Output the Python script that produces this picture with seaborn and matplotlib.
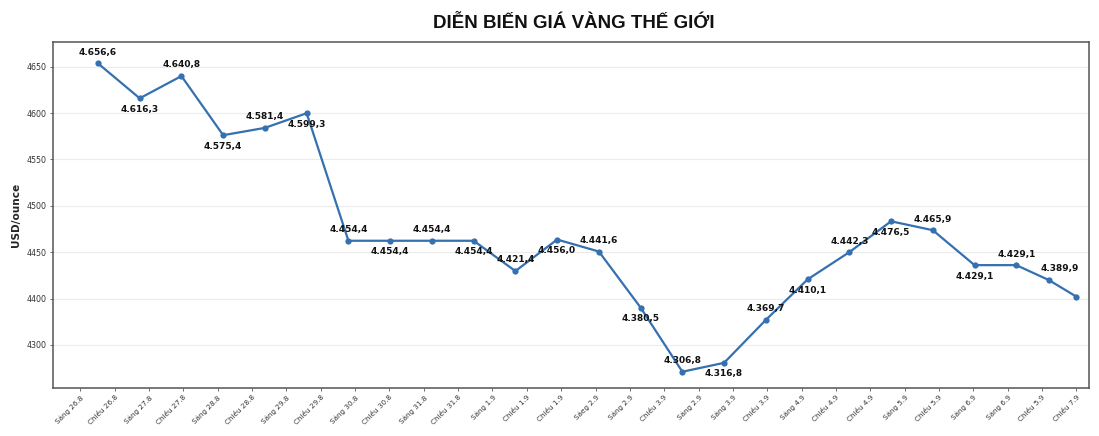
import numpy as np
import pandas as pd
import seaborn as sns
import matplotlib.pyplot as plt

# values (point heights) and the printed labels
prices = [4653.7, 4616.0, 4640.0, 4576.2, 4584.1, 4599.9, 4462.3, 4462.3,
          4462.3, 4462.3, 4429.6, 4463.6, 4450.7, 4390.2, 4321.0, 4330.6,
          4376.9, 4420.6, 4450.0, 4483.3, 4473.7, 4436.0, 4436.0, 4419.9,
          4402.0]
point_x = list(range(23)) + [22.78, 23.44]
price_labels = ["4.656,6", "4.616,3", "4.640,8", "4.575,4", "4.581,4",
                "4.599,3", "4.454,4", "4.454,4", "4.454,4", "4.454,4",
                "4.421,4", "4.456,0", "4.441,6", "4.380,5", "4.306,8",
                "4.316,8", "4.369,7", "4.410,1", "4.442,3", "4.476,5",
                "4.465,9", "4.429,1", "4.429,1", "4.389,9", ""]

session_labels = ["Sáng 26.8", "Chiều 26.8", "Sáng 27.8", "Chiều 27.8",
                  "Sáng 28.8", "Chiều 28.8", "Sáng 29.8", "Chiều 29.8",
                  "Sáng 30.8", "Chiều 30.8", "Sáng 31.8", "Chiều 31.8",
                  "Sáng 1.9", "Chiều 1.9", "Chiều 1.9", "Sáeg 2.9",
                  "Sáng 2.9", "Chiều 3.9", "Sáng 2.9", "Sáng 3.9",
                  "Chiều 3.9", "Sáng 4.9", "Chiều 4.9", "Chiều 4.9",
                  "Sáng 5.9", "Chiều 5.9", "Sáng 6.9", "Sáng 6.9",
                  "Chiều 5.9", "Chiều 7.9"]

y_ticks = [4350, 4400, 4450, 4500, 4550, 4600, 4650]
y_tick_labels = ["4300", "4400", "4450", "4500", "4550", "4600", "4650"]

# where each value label sits: 1 above the point, -1 below
label_side = [1, -1, 1, -1, 1, -1, 1, -1, 1, -1, 1, -1, 1, -1, 1, -1,
              1, -1, 1, -1, 1, -1, 1, 1, 0]

df = pd.DataFrame({"x": point_x, "price": prices})

sns.set_theme(style="white")
plt.rcParams["font.family"] = ["DejaVu Sans"]

fig, ax = plt.subplots(figsize=(10.99, 4.36), dpi=100)
fig.subplots_adjust(left=0.0485, right=0.9912, bottom=0.110, top=0.904)

line_color = "#3570b0"
sns.lineplot(data=df, x="x", y="price", ax=ax, color=line_color,
             linewidth=1.6, marker="o", markersize=4.5,
             markeredgewidth=0, markerfacecolor=line_color)

for i, (xv, yv, txt) in enumerate(zip(point_x, prices, price_labels)):
    if not txt:
        continue
    dx = 8 if i == 23 else 0
    ax.annotate(txt, (xv, yv), xytext=(dx, 8 * label_side[i]),
                textcoords="offset points", ha="center", va="center",
                fontsize=6.5, fontweight="bold", color="#111111")

ax.set_xlim(-1.07, 23.75)
ax.set_ylim(4303.4, 4676.9)
ax.set_xticks(np.linspace(-0.424, 23.44, len(session_labels)))
ax.set_xticklabels(session_labels, rotation=45, ha="right",
                   rotation_mode="anchor", fontsize=5.2, color="#333333")
ax.set_yticks(y_ticks)
ax.set_yticklabels(y_tick_labels, fontsize=5.7, color="#333333")
ax.tick_params(axis="both", length=2.5, width=0.6, color="#555555", pad=2)
ax.tick_params(axis="both", which="both", bottom=True, left=True)

ax.grid(axis="y", color="#ececec", linewidth=0.8)
ax.grid(axis="x", visible=False)
for spine in ax.spines.values():
    spine.set_color("#555555")
    spine.set_linewidth(1.1)

ax.set_xlabel("")
ax.set_ylabel("USD/ounce", fontsize=7.6, fontweight="bold", labelpad=4)

fig.text(0.5225, 0.935, "DIỄN BIẾN GIÁ VÀNG THẾ GIỚI", ha="center",
         va="baseline", fontsize=13.5, fontweight="bold",
         family=["Liberation Sans", "DejaVu Sans"], color="#111111")

fig.savefig("out.png", dpi=100, facecolor="white")
